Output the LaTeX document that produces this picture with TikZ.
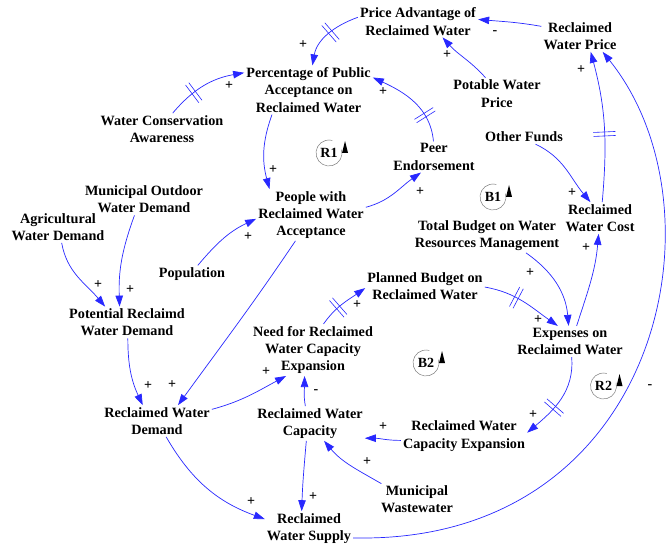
\documentclass[tikz,border=0pt]{standalone}
\usepackage{fontspec}
\setmainfont{Liberation Serif}
\usetikzlibrary{arrows.meta,decorations.markings}
\definecolor{lnkc}{RGB}{40,40,255}
\begin{document}
\begin{tikzpicture}[x=1pt,y=1pt,
 var/.style={align=center,font=\bfseries\fontsize{14.2}{17.3}\selectfont,inner sep=2pt},
 pol/.style={font=\bfseries\fontsize{14}{14}\selectfont,inner sep=0pt},
 lnk/.style={draw=lnkc,line width=0.7pt,-{Triangle[length=11pt,width=7.5pt]}},
 delay/.style={postaction={decorate,decoration={markings,mark=at position #1 with {\draw[lnkc,line width=0.6pt,arrows=-] (-2pt,-11pt)--(-2pt,11pt) (2pt,-11pt)--(2pt,11pt);}}}},
 loopc/.style={circle,minimum size=26pt,inner sep=0pt,outer sep=0pt,font=\bfseries\fontsize{14}{16}\selectfont},
 loopline/.style={draw=gray,line width=0.5pt},
]
\useasboundingbox (0,0) rectangle (667,550);
\fill[white] (0,0) rectangle (667,550);

% variables
\node[var] (pa) at (418,528.5) {Price Advantage of\\Reclaimed Water};
\node[var] (rwp) at (580,514) {Reclaimed\\Water Price};
\node[var] (ppa) at (308.5,460) {Percentage of Public\\Acceptance on\\Reclaimed Water};
\node[var] (wca) at (162,421) {Water Conservation\\Awareness};
\node[var] (pwp) at (497,456.5) {Potable Water\\Price};
\node[var] (pe) at (434,393) {Peer\\Endorsement};
\node[var] (of) at (524,413) {Other Funds};
\node[var] (mowd) at (144,350.5) {Municipal Outdoor\\Water Demand};
\node[var] (awd) at (58,323) {Agricultural\\Water Demand};
\node[var] (pwra) at (311,335) {People with\\Reclaimed Water\\Acceptance};
\node[var] (rwc) at (600,332) {Reclaimed\\Water Cost};
\node[var] (tb) at (487,314.5) {Total Budget on Water\\Resources Management};
\node[var] (pop) at (192,276) {Population};
\node[var] (pb) at (425,264) {Planned Budget on\\Reclaimed Water};
\node[var] (prwd) at (127,227.5) {Potential Reclaimd\\Water Demand};
\node[var] (need) at (313,200) {Need for Reclaimed\\Water Capacity\\Expansion};
\node[var] (exp) at (570,208.5) {Expenses on\\Reclaimed Water};
\node[var] (rwd) at (157,129) {Reclaimed Water\\Demand};
\node[var] (cap) at (310,126.5) {Reclaimed Water\\Capacity};
\node[var] (rwce) at (464,114) {Reclaimed Water\\Capacity Expansion};
\node[var] (mw) at (417,50.5) {Municipal\\Wastewater};
\node[var] (rws) at (309,21.5) {Reclaimed\\Water Supply};

% links
\draw[lnk,delay=0.45] (pa.176) to[out=200,in=80] (ppa.81);
\draw[lnk] (rwp.166) to[out=170,in=-5] (pa.2);
\draw[lnk] (pwp.126) to[out=132,in=-48] (pa.-33);
\draw[lnk,delay=0.35] (wca.56) to[out=50,in=190] (ppa.165);
\draw[lnk,delay=0.3] (pe.92) to[out=95,in=-25] (ppa.11);
\draw[lnk] (ppa.214) to[out=250,in=105] (pwra.148);
\draw[lnk] (pwra.8) to[out=15,in=215] (pe.230);
\draw[lnk] (pop.56) to[out=50,in=205] (pwra.184);
\draw[lnk] (pwra.239) to[out=236,in=54] (rwd.37);
\draw[lnk] (awd.-77) to[out=-80,in=130] (prwd.144);
\draw[lnk] (mowd.239) to[out=250,in=92] (prwd.115);
\draw[lnk] (prwd.-87) to[out=-90,in=115] (rwd.132);
\draw[lnk] (rwd.12) to[out=15,in=208] (need.224);
\draw[lnk] (cap.105) to[out=100,in=-90] (need.252);
\draw[lnk] (rwd.-60) to[out=-60,in=160] (rws.168);
\draw[lnk] (cap.258) to[out=265,in=88] (rws.113);
\draw[lnk,delay=0.4] (need.68) to[out=55,in=215] (pb.182);
\draw[lnk,delay=0.4] (pb.-1) to[out=-10,in=145] (exp.128);
\draw[lnk] (tb.-24) to[out=-35,in=95] (exp.95);
\draw[lnk] (exp.67) to[out=72,in=-95] (rwc.265);
\draw[lnk] (of.-32) to[out=-25,in=130] (rwc.121);
\draw[lnk,delay=0.45] (rwc.82) to[out=85,in=-75] (rwp.-56);
\draw[lnk] (rws.-12) .. controls (660,5) and (730,340) .. (rwp.-35);
\draw[lnk,delay=0.6] (exp.-84) to[out=-85,in=40] (rwce.3);
\draw[lnk] (rwce.184) to[out=180,in=0] (cap.-15);
\draw[lnk] (mw.156) to[out=150,in=-50] (cap.-51);

% polarities
\node[pol] (s1) at (303,505) {+};
\node[pol] (s2) at (495,517) {-};
\node[pol] (s3) at (447,495) {+};
\node[pol] (s4) at (229,464) {+};
\node[pol] (s5) at (383,458) {+};
\node[pol] (s6) at (273,380) {+};
\node[pol] (s7) at (420,358) {+};
\node[pol] (s8) at (248,313) {+};
\node[pol] (s9) at (172,165) {+};
\node[pol] (s10) at (98,265) {+};
\node[pol] (s11) at (130,260) {+};
\node[pol] (s12) at (148,164) {+};
\node[pol] (s13) at (266,178) {+};
\node[pol] (s14) at (316,158) {-};
\node[pol] (s15) at (251,48) {+};
\node[pol] (s16) at (313,53) {+};
\node[pol] (s17) at (357,245) {+};
\node[pol] (s18) at (538,230) {+};
\node[pol] (s19) at (530,277) {+};
\node[pol] (s20) at (586,302) {+};
\node[pol] (s21) at (572,357) {+};
\node[pol] (s22) at (581,480) {+};
\node[pol] (s23) at (650,163) {-};
\node[pol] (s24) at (533,135) {+};
\node[pol] (s25) at (383,123) {+};
\node[pol] (s26) at (367,88) {+};

% loop markers
\node[loopc] (r1) at (329,397) {R1};
\draw[loopline] (r1.15) arc[start angle=15,end angle=-285,radius=13pt];
\fill ([xshift=3pt]r1.east) ++(-3,0) -- ++(6,0) -- ++(-3,12) -- cycle;
\node[loopc] (b1) at (493,353) {B1};
\draw[loopline] (b1.15) arc[start angle=15,end angle=-285,radius=13pt];
\fill ([xshift=3pt]b1.east) ++(-3,0) -- ++(6,0) -- ++(-3,12) -- cycle;
\node[loopc] (b2) at (426,187) {B2};
\draw[loopline] (b2.15) arc[start angle=15,end angle=-285,radius=13pt];
\fill ([xshift=3pt]b2.east) ++(-3,0) -- ++(6,0) -- ++(-3,12) -- cycle;
\node[loopc] (r2) at (603.5,164) {R2};
\draw[loopline] (r2.15) arc[start angle=15,end angle=-285,radius=13pt];
\fill ([xshift=3pt]r2.east) ++(-3,0) -- ++(6,0) -- ++(-3,12) -- cycle;
\end{tikzpicture}
\end{document}
